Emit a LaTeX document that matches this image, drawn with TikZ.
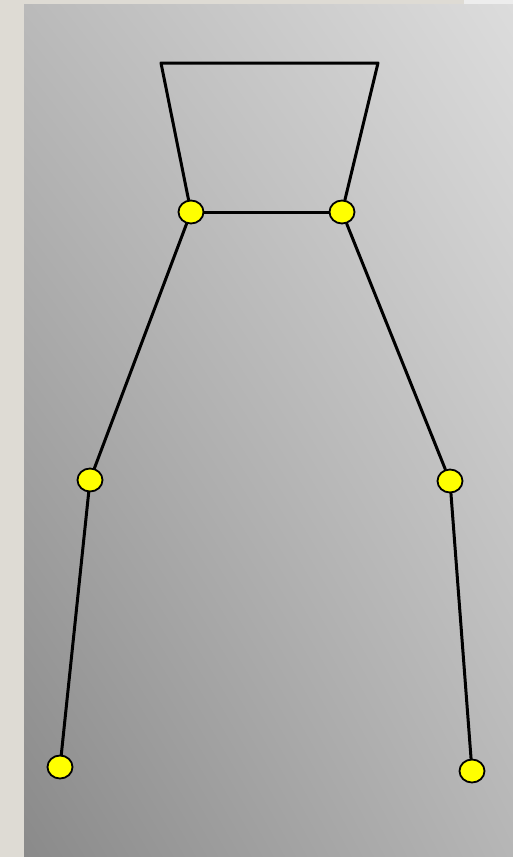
\documentclass[tikz,border=0pt]{standalone}
\usetikzlibrary{shapes.geometric,shadings}
\definecolor{frame}{HTML}{DEDBD4}
\definecolor{framewhite}{HTML}{EDEDED}
\definecolor{ptl}{HTML}{BABABA}
\definecolor{ptr}{HTML}{DCDCDC}
\definecolor{pbl}{HTML}{8A8A8A}
\definecolor{pbr}{HTML}{B6B6B6}
\definecolor{jointfill}{HTML}{FFFF00}
\tikzset{
  joint/.style={ellipse, draw=black, line width=1.8pt, fill=jointfill, minimum width=25pt, minimum height=23pt, inner sep=0pt},
  bone/.style={draw=black, line width=3pt, line cap=round, line join=round}
}
\begin{document}
\begin{tikzpicture}[x=1pt,y=-1pt]
\useasboundingbox (0,0) rectangle (513,857);
\fill[frame] (0,0) rectangle (513,857);
\fill[framewhite] (464,0) rectangle (513,4);
\shade[upper left=ptl, upper right=ptr, lower left=pbl, lower right=pbr] (24,4) rectangle (513,857);
\coordinate (tl) at (161,63);
\coordinate (tr) at (378,63);
\node[joint] (sl) at (191,212) {};
\node[joint] (sr) at (342,212) {};
\node[joint] (kl) at (90,480) {};
\node[joint] (kr) at (450,481) {};
\node[joint] (fl) at (60,767) {};
\node[joint] (fr) at (472,771) {};
\draw[bone] (sl) -- (tl) -- (tr) -- (sr);
\draw[bone] (sl) -- (sr);
\draw[bone] (sl) -- (kl) -- (fl);
\draw[bone] (sr) -- (kr) -- (fr);
\end{tikzpicture}
\end{document}
